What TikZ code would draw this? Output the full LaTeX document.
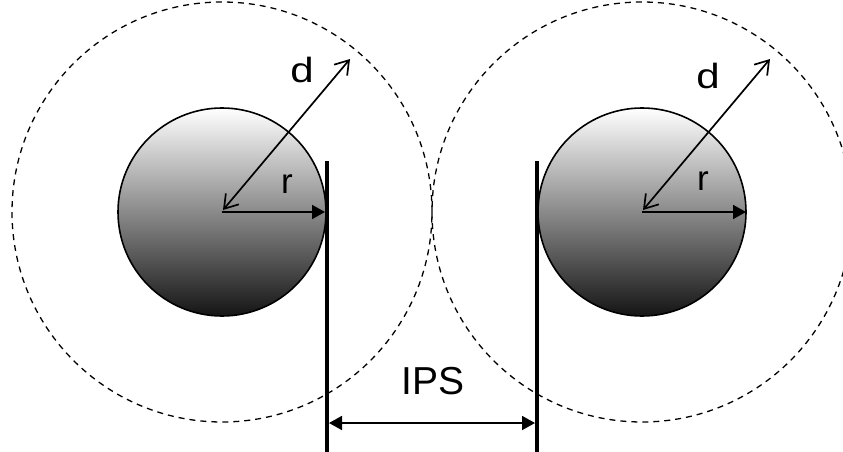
\documentclass[tikz,border=0pt]{standalone}
\usepackage{fontspec}
\usepackage{graphicx}
\setmainfont{Liberation Sans}
\usetikzlibrary{arrows.meta}
\begin{document}
\begin{tikzpicture}[x=1pt,y=-1pt,
  ball/.style={circle, draw, line width=1.6pt, inner sep=0pt, minimum size=208pt, top color=white, bottom color=black!92},
  zone/.style={circle, draw, dash pattern=on 6pt off 5pt, line width=1.3pt, inner sep=0pt, minimum size=420pt},
  wall/.style={line width=4pt},
  darrow/.style={line width=1.7pt, {Straight Barb[length=13pt,width=17pt]}-{Straight Barb[length=13pt,width=17pt]}},
  farrow/.style={line width=1.8pt, -{Triangle[length=13pt,width=14pt]}},
  farrow2/.style={line width=1.8pt, {Triangle[length=13pt,width=14pt]}-{Triangle[length=13pt,width=14pt]}},
  lbl/.style={inner sep=0pt, font=\fontsize{35}{35}\selectfont},
  biglbl/.style={inner sep=0pt, font=\fontsize{39}{39}\selectfont}]
\useasboundingbox (0,0) rectangle (843,452);
\clip (0,0) rectangle (843,452);
\node[zone] (z1) at (222,212) {};
\node[zone] (z2) at (642,212) {};
\node[ball] (b1) at (222,212) {};
\node[ball] (b2) at (642,212) {};
\coordinate (w1t) at (327,161);
\coordinate (w1b) at (327,452);
\coordinate (w2t) at (537,161);
\coordinate (w2b) at (537,452);
\draw[wall] (w1t) -- (w1b);
\draw[wall] (w2t) -- (w2b);
\coordinate (d1a) at (223,210);
\coordinate (d1b) at (350,59);
\coordinate (d2a) at (643,210);
\coordinate (d2b) at (770,59);
\draw[darrow] (d1a) -- (d1b);
\draw[darrow] (d2a) -- (d2b);
\coordinate (r1e) at (325,212);
\coordinate (r2e) at (746,212);
\draw[farrow] (b1.center) -- (r1e);
\draw[farrow] (b2.center) -- (r2e);
\coordinate (i1) at (329,423);
\coordinate (i2) at (535,423);
\draw[farrow2] (i1) -- (i2);
\node[lbl] (dl1) at (302,70) {\scalebox{1.2}[1]{d}};
\node[lbl] (dl2) at (708,76) {\scalebox{1.2}[1]{d}};
\node[lbl] (rl1) at (287,184) {r};
\node[lbl] (rl2) at (703,181) {r};
\node[biglbl] (ips) at (433,381) {IPS};
\end{tikzpicture}
\end{document}
